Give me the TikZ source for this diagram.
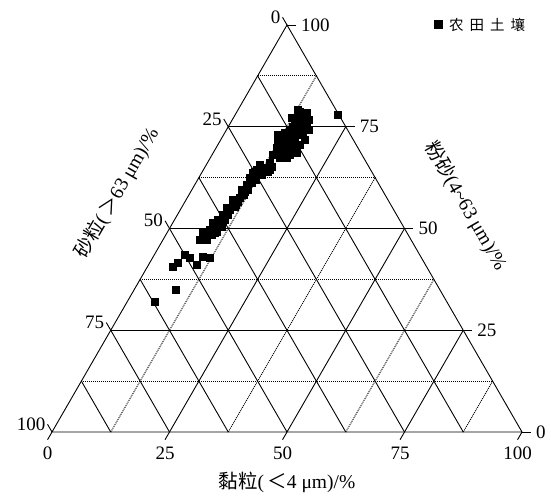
\documentclass[tikz,border=0pt]{standalone}
\usepackage{fontspec}
\setmainfont{Liberation Serif}
\newfontfamily\cjk{Noto Sans CJK SC}
\begin{document}
\begin{tikzpicture}[x=1pt,y=-1pt,
  solidln/.style={line width=0.9pt},
  dotln/.style={line width=0.95pt, dash pattern=on 1pt off 1pt},
  num/.style={font=\fontsize{19}{19}\selectfont, inner sep=0pt},
  ttl/.style={font=\fontsize{19.5}{19.5}\selectfont, inner sep=0pt},
  mk/.style={fill=black}]
\useasboundingbox[fill=white] (0,0) rectangle (551,498);
\begin{scope}[shift={(52,432)}, x={(4.7pt,0pt)}, y={(2.35pt,4.07pt)}]
  \coordinate (A) at (0,0);
  \coordinate (B) at (100,0);
  \coordinate (C) at (0,100);
  % dotted lines (silt and clay, odd eighths)
  \foreach \v in {12.5,37.5,62.5,87.5} {
    \draw[dotln] (0,\v) -- ({100-\v},\v);
    \draw[dotln] (\v,0) -- (\v,{100-\v});
  }
  % solid silt and clay lines
  \foreach \v in {25,50,75} {
    \draw[solidln] (0,\v) -- ({100-\v},\v);
    \draw[solidln] (\v,0) -- (\v,{100-\v});
  }
  % solid sand lines
  \foreach \v in {12.5,25,37.5,50,62.5,75,87.5} {
    \draw[solidln] ({100-\v},0) -- (0,{100-\v});
  }
  \draw[solidln] (A) -- (B) -- (C) -- cycle;
  % left ticks (sand)
  \foreach \v in {0,25,50,75,100} {
    \coordinate (L\v) at (-1.9,{100-\v+1.9});
    \draw[solidln] (0,{100-\v}) -- (L\v);
    \node[num, anchor=east, xshift=-2pt] (ln\v) at (L\v) {\v};
  }
  % right ticks (silt)
  \foreach \v in {0,25,50,75,100} {
    \coordinate (R\v) at ({100-\v+1.9},\v);
    \draw[solidln] ({100-\v},\v) -- (R\v);
    \node[num, anchor=west, xshift=5pt] (rn\v) at (R\v) {\v};
  }
  % bottom ticks (clay)
  \foreach \v in {0,25,50,75,100} {
    \coordinate (D\v) at (\v,-1.9);
    \draw[solidln] (\v,0) -- (D\v);
    \node[num, anchor=base, yshift=-20pt] (bn\v) at (D\v) {\v};
  }
\end{scope}
% axis titles
\node[ttl] (tb) at (287,482) {{\cjk 黏粒}(\,{\cjk ＜}4 μm)/\%};
\node[ttl, rotate=60] (tl) at (117,193) {{\cjk 砂粒}(\,{\cjk ＞}63 μm)/\%};
\node[ttl, rotate=-60] (tr) at (466,206) {{\cjk 粉砂}(4\textasciitilde 63 μm)/\%};
% legend
\fill (434,20) rectangle (443,29);
\node[anchor=west, inner sep=0pt, font=\fontsize{14.5}{14.5}\selectfont\cjk] (lg) at (449,25) {农\hspace{6pt}田\hspace{6pt}土\hspace{6pt}壤};
% data
\foreach \x/\y in {
 338/115, 155/302, 176/290,
 173/267, 178/263, 185/255, 190/258, 197/265, 203/257, 210/258, 200/240, 207/237, 215/233, 222/227, 223/222, 203/232,
 205/237, 207/240, 210/230, 213/223, 218/220, 223/215, 227/208, 233/200, 235/207, 240/198, 242/190, 247/185, 252/183, 250/178, 255/172, 258/173, 260/167, 265/168, 270/163, 272/167, 268/172, 260/165, 270/165,
 212/235, 220/225, 228/215, 236/205, 244/195, 248/190, 256/180, 262/175, 230/210, 238/202, 245/192, 225/220, 215/228, 217/232,
 298/110, 302/115, 307/113, 307/123, 295/125, 290/130, 285/133, 283/140, 290/137, 293/143, 287/143, 278/142, 277/148, 282/152, 280/150, 293/150, 297/153, 290/155, 293/153, 287/158, 282/158, 280/158, 275/155, 273/155, 300/112, 305/115, 298/120, 303/132, 293/127, 288/137, 270/170, 257/170, 253/173, 305/128, 300/135,
 285/145, 295/140, 300/145, 305/140, 303/120, 292/118, 296/133, 290/148, 300/125, 309/120, 309/130, 278/135}
{
  \fill[mk] ({\x-4},{\y-4}) rectangle ({\x+4},{\y+4});
}
\end{tikzpicture}
\end{document}
